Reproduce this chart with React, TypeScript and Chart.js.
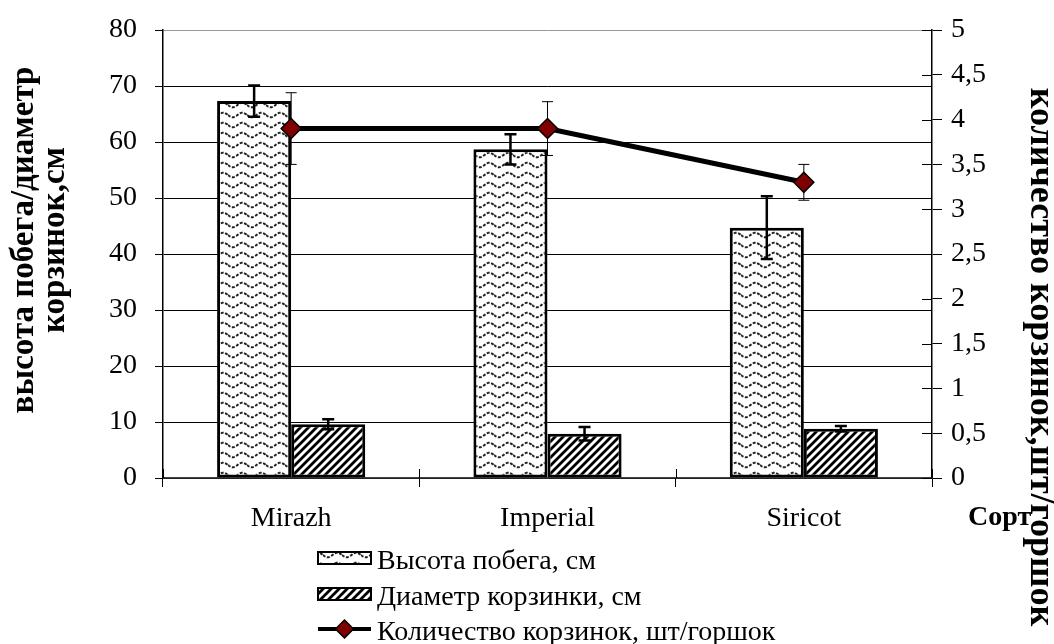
import React, { useEffect, useRef } from 'react';
import { Chart, registerables } from 'chart.js';

Chart.register(...registerables);

const categories = ['Mirazh', 'Imperial', 'Siricot'];
const heightLabel = 'Высота побега, см';
const heightValues = [67.3, 58.7, 44.7];
const heightErrors = [2.8, 2.7, 5.6];
const diameterLabel = 'Диаметр корзинки, см';
const diameterValues = [9.6, 7.9, 8.8];
const diameterErrors = [0.9, 1.2, 0.5];
const countLabel = 'Количество корзинок, шт/горшок';
const countValues = [3.9, 3.9, 3.3];
const countErrors = [0.4, 0.3, 0.2];
const leftAxis = { min: 0, max: 80, step: 10 };
const rightAxis = { min: 0, max: 5, step: 0.5 };
const leftTitle = ['высота побега/диаметр', 'корзинок,см'];
const rightTitle = 'количество корзинок,шт/горшок';
const xTitle = 'Сорт';

const FONT = "'Liberation Serif', 'Times New Roman', serif";

function wavePattern(ctx: CanvasRenderingContext2D): CanvasPattern {
  const c = document.createElement('canvas');
  c.width = 19;
  c.height = 10;
  const g = c.getContext('2d')!;
  g.fillStyle = '#fff';
  g.fillRect(0, 0, 19, 10);
  g.strokeStyle = '#222';
  g.lineWidth = 1.9;
  g.setLineDash([3, 1.5]);
  g.beginPath();
  for (let x = 0; x <= 19; x += 0.5) {
    const y = 5 + 2.3 * Math.sin((x / 19) * 2 * Math.PI);
    if (x === 0) g.moveTo(x, y);
    else g.lineTo(x, y);
  }
  g.stroke();
  return ctx.createPattern(c, 'repeat')!;
}

function hatchPattern(ctx: CanvasRenderingContext2D): CanvasPattern {
  const c = document.createElement('canvas');
  c.width = 8;
  c.height = 8;
  const g = c.getContext('2d')!;
  g.fillStyle = '#fff';
  g.fillRect(0, 0, 8, 8);
  g.strokeStyle = '#000';
  g.lineWidth = 2.8;
  g.beginPath();
  g.moveTo(-1, 9);
  g.lineTo(9, -1);
  g.moveTo(-5, 5);
  g.lineTo(5, -5);
  g.moveTo(3, 13);
  g.lineTo(13, 3);
  g.stroke();
  return ctx.createPattern(c, 'repeat')!;
}

function drawErrors(chart: any, index: number) {
  const ds: any = chart.data.datasets[index];
  if (!ds.errors) return;
  const meta = chart.getDatasetMeta(index);
  const scale = chart.scales[meta.yAxisID];
  const ctx = chart.ctx;
  ctx.save();
  ctx.strokeStyle = '#000';
  ctx.lineWidth = ds.errorLineWidth;
  meta.data.forEach((el: any, i: number) => {
    const v = ds.data[i];
    const e = ds.errors[i];
    const x = el.x;
    const yHi = scale.getPixelForValue(v + e);
    const yLo = scale.getPixelForValue(v - e);
    const hw = ds.errorCap;
    ctx.beginPath();
    ctx.moveTo(x, yHi);
    ctx.lineTo(x, yLo);
    ctx.moveTo(x - hw, yHi);
    ctx.lineTo(x + hw, yHi);
    ctx.moveTo(x - hw, yLo);
    ctx.lineTo(x + hw, yLo);
    ctx.stroke();
  });
  ctx.restore();
}

const errorPlugin = {
  id: 'errorBars',
  beforeDatasetDraw(chart: any, args: any) {
    const ds = chart.data.datasets[args.index];
    if (ds.type === 'line') drawErrors(chart, args.index);
  },
  afterDatasetDraw(chart: any, args: any) {
    const ds = chart.data.datasets[args.index];
    if (ds.type !== 'line') drawErrors(chart, args.index);
  },
};

const decorPlugin = {
  id: 'decor',
  afterDraw(chart: any) {
    const ctx: CanvasRenderingContext2D = chart.ctx;
    const { right, bottom } = chart.chartArea;
    const xs = chart.scales.x;
    const y1 = chart.scales.y1;
    ctx.save();
    ctx.strokeStyle = '#000';
    ctx.lineWidth = 1;
    ctx.beginPath();
    y1.ticks.forEach((t: any) => {
      const py = Math.round(y1.getPixelForValue(t.value)) + 0.5;
      ctx.moveTo(right - 10, py);
      ctx.lineTo(right, py);
    });
    for (let i = 0; i <= categories.length; i++) {
      const px = Math.round(xs.getPixelForValue(i - 0.5)) + 0.5;
      ctx.moveTo(px, bottom - 9);
      ctx.lineTo(px, bottom);
    }
    ctx.stroke();

    // left title
    ctx.fillStyle = '#000';
    ctx.font = `bold 33px ${FONT}`;
    ctx.textAlign = 'center';
    ctx.textBaseline = 'middle';
    ctx.save();
    ctx.translate(24, 240);
    ctx.rotate(-Math.PI / 2);
    ctx.fillText(leftTitle[0], 0, 0);
    ctx.fillText(leftTitle[1], 0, 31);
    ctx.restore();

    // x title
    ctx.font = `bold 28px ${FONT}`;
    ctx.textAlign = 'left';
    ctx.fillText(xTitle, 968, 518);

    // right title
    ctx.font = `bold 36px ${FONT}`;
    ctx.save();
    ctx.translate(1040, 357);
    ctx.rotate(Math.PI / 2);
    ctx.textAlign = 'center';
    ctx.fillText(rightTitle, 0, 0);
    ctx.restore();

    // legend
    const ds = chart.data.datasets;
    const rows = [
      { d: ds[1], cy: 558 },
      { d: ds[2], cy: 594 },
      { d: ds[0], cy: 629 },
    ];
    const sx = 318;
    const sw = 53;
    ctx.font = `28px ${FONT}`;
    ctx.textAlign = 'left';
    ctx.textBaseline = 'alphabetic';
    rows.forEach(({ d, cy }) => {
      if (d.type === 'line') {
        ctx.strokeStyle = '#000';
        ctx.lineWidth = 4;
        ctx.beginPath();
        ctx.moveTo(sx, cy);
        ctx.lineTo(sx + sw, cy);
        ctx.stroke();
        const r = 9;
        const cx = sx + sw / 2;
        ctx.beginPath();
        ctx.moveTo(cx, cy - r);
        ctx.lineTo(cx + r, cy);
        ctx.lineTo(cx, cy + r);
        ctx.lineTo(cx - r, cy);
        ctx.closePath();
        ctx.fillStyle = d.pointBackgroundColor;
        ctx.fill();
        ctx.lineWidth = 1.5;
        ctx.stroke();
      } else {
        ctx.fillStyle = d.backgroundColor;
        ctx.fillRect(sx, cy - 6, sw, 12);
        ctx.strokeStyle = '#000';
        ctx.lineWidth = 2;
        ctx.strokeRect(sx, cy - 6, sw, 12);
      }
      ctx.fillStyle = '#000';
      ctx.fillText(d.label, sx + sw + 6, cy + 11);
    });
    ctx.restore();
  },
};

export default function App() {
  const ref = useRef<HTMLCanvasElement>(null);
  useEffect(() => {
    const canvas = ref.current!;
    const ctx = canvas.getContext('2d')!;
    const wave = wavePattern(ctx);
    const hatch = hatchPattern(ctx);
    const chart = new Chart(ctx, {
      type: 'bar',
      data: {
        labels: categories,
        datasets: [
          {
            type: 'line',
            label: countLabel,
            data: countValues,
            yAxisID: 'y1',
            borderColor: '#000',
            borderWidth: 5,
            pointStyle: 'rectRot',
            pointRadius: 10,
            pointBackgroundColor: '#800000',
            pointBorderColor: '#000',
            pointBorderWidth: 1.5,
            tension: 0,
            fill: false,
            errors: countErrors,
            errorLineWidth: 1,
            errorCap: 5.5,
          } as any,
          {
            type: 'bar',
            label: heightLabel,
            data: heightValues,
            yAxisID: 'y',
            backgroundColor: wave,
            borderColor: '#000',
            borderWidth: 3,
            borderSkipped: false,
            categoryPercentage: 0.578,
            barPercentage: 1,
            errors: heightErrors,
            errorLineWidth: 2.5,
            errorCap: 6,
          } as any,
          {
            type: 'bar',
            label: diameterLabel,
            data: diameterValues,
            yAxisID: 'y',
            backgroundColor: hatch,
            borderColor: '#000',
            borderWidth: 3,
            borderSkipped: false,
            categoryPercentage: 0.578,
            barPercentage: 1,
            errors: diameterErrors,
            errorLineWidth: 2.5,
            errorCap: 6,
          } as any,
        ],
      },
      options: {
        responsive: false,
        animation: false,
        devicePixelRatio: 1,
        layout: { padding: { top: 30, left: 0, right: 0, bottom: 0 } },
        plugins: {
          legend: { display: false },
          tooltip: { enabled: false },
          title: { display: false },
        },
        scales: {
          x: {
            type: 'category',
            offset: true,
            grid: {
              offset: true,
              drawOnChartArea: false,
              tickLength: 9,
              color: '#000',
              lineWidth: 1,
            },
            border: { color: '#444', width: 1.5 },
            ticks: { color: '#000', font: { family: FONT, size: 28 }, padding: 15 },
            afterFit: (s: any) => {
              s.height = 166;
              s.paddingLeft = 0;
              s.paddingRight = 0;
            },
          },
          y: {
            position: 'left',
            min: leftAxis.min,
            max: leftAxis.max,
            ticks: {
              stepSize: leftAxis.step,
              color: '#000',
              font: { family: FONT, size: 28 },
              padding: 18,
            },
            grid: {
              color: (c: any) => (c.tick && c.tick.value === leftAxis.max ? '#999' : '#000'),
              tickColor: '#000',
              lineWidth: 1,
              tickLength: 8,
            },
            border: { color: '#000', width: 1.5 },
            afterFit: (s: any) => {
              s.width = 163;
              s.paddingTop = 0;
              s.paddingBottom = 0;
            },
          },
          y1: {
            position: 'right',
            min: rightAxis.min,
            max: rightAxis.max,
            ticks: {
              stepSize: rightAxis.step,
              color: '#000',
              font: { family: FONT, size: 28 },
              padding: 9,
              callback: (v: any) => String(v).replace('.', ','),
            },
            grid: { drawOnChartArea: false, color: '#000', tickLength: 10, lineWidth: 1 },
            border: { color: '#000', width: 1.5 },
            afterFit: (s: any) => {
              s.width = 122;
              s.paddingTop = 0;
              s.paddingBottom = 0;
            },
          },
        },
      } as any,
      plugins: [errorPlugin, decorPlugin],
    });
    return () => chart.destroy();
  }, []);
  return (
    <div style={{ position: 'absolute', left: 0, top: 0, width: 1054, height: 644, background: '#fff' }}>
      <canvas ref={ref} width={1054} height={644} style={{ display: 'block' }} />
    </div>
  );
}
